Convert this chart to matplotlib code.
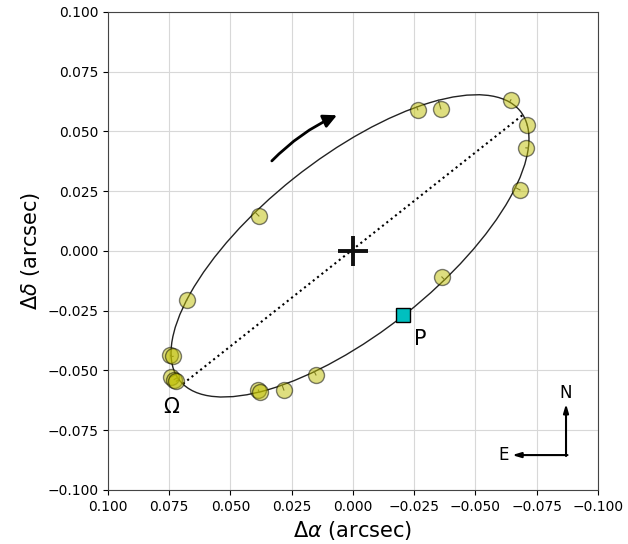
import numpy as np
import matplotlib
matplotlib.use("Agg")
import matplotlib.pyplot as plt
from matplotlib.patches import Ellipse

# ------------------------------- Datos -------------------------------
# posiciones observadas (arcsec)
obs_x = [-0.0265, -0.0359, -0.0645, -0.0710, -0.0706, -0.0682, 0.0384, -0.0363,
         0.0678, 0.0745, 0.0734, 0.0744, 0.0730, 0.0721, 0.0386, 0.0380, 0.0282, 0.0151]
obs_y = [0.0590, 0.0594, 0.0632, 0.0527, 0.0431, 0.0255, 0.0146, -0.0109,
         -0.0206, -0.0437, -0.0441, -0.0528, -0.0538, -0.0545, -0.0582, -0.0590, -0.0582, -0.0519]

# orbita aparente: centro, semiejes y angulo
orb_cx, orb_cy = 0.0012, 0.0021
orb_a, orb_b = 0.0895, 0.0364
orb_ang = -39.2

# linea de nodos y periastro
node_x = [0.0694, -0.0694]
node_y = [-0.0556, 0.0569]
peri_x, peri_y = -0.0205, -0.0268

ticks = [0.100, 0.075, 0.050, 0.025, 0.000, -0.025, -0.050, -0.075, -0.100]

# ------------------------------- Grafico -------------------------------
fig = plt.figure(figsize=(6.28, 5.44), dpi=100)
ax = fig.add_axes([0.172, 0.0993, 0.780, 0.879])

# elipse
ax.add_patch(Ellipse((orb_cx, orb_cy), 2 * orb_a, 2 * orb_b, angle=orb_ang,
                     fill=False, ec='#222222', lw=1.0, zorder=3))

# residuos: del punto observado al punto mas cercano de la orbita
t = np.linspace(0, 2 * np.pi, 2000)
th = np.deg2rad(orb_ang)
ex = orb_cx + orb_a * np.cos(t) * np.cos(th) - orb_b * np.sin(t) * np.sin(th)
ey = orb_cy + orb_a * np.cos(t) * np.sin(th) + orb_b * np.sin(t) * np.cos(th)
for xo, yo in zip(obs_x, obs_y):
    k = np.argmin((ex - xo) ** 2 + (ey - yo) ** 2)
    ax.plot([xo, ex[k]], [yo, ey[k]], color='#444444', lw=0.8, zorder=4)

ax.plot(obs_x, obs_y, 'o', ms=11.5, mfc='y', mec='k', alpha=0.5, zorder=5)

ax.plot(node_x, node_y, ':', color='k', lw=1.5, zorder=3)
ax.plot([0], [0], '+', color='#111111', ms=22, mew=2.8, zorder=6)
ax.plot([peri_x], [peri_y], 's', color='c', mec='k', ms=10, zorder=7)

ax.text(peri_x - 0.0045, peri_y - 0.006, 'P', fontsize=15, ha='left', va='top')
ax.text(node_x[0] + 0.0048, node_y[0] - 0.0055, r'$\Omega$', fontsize=15, ha='center', va='top')

# flecha del sentido de movimiento
ax.annotate('', xy=(0.0055, 0.0572), xytext=(0.0339, 0.0368),
            arrowprops=dict(arrowstyle='-|>,head_length=0.8,head_width=0.4', color='k',
                            lw=2, connectionstyle='arc3,rad=-0.1'))

# brujula N-E
ax.annotate('', xy=(0.935, 0.180), xytext=(0.935, 0.071), xycoords='axes fraction',
            arrowprops=dict(arrowstyle='-|>,head_length=0.5,head_width=0.15', color='k', lw=1.5,
                            shrinkA=0, shrinkB=0))
ax.annotate('', xy=(0.825, 0.073), xytext=(0.938, 0.073), xycoords='axes fraction',
            arrowprops=dict(arrowstyle='-|>,head_length=0.5,head_width=0.15', color='k', lw=1.5,
                            shrinkA=0, shrinkB=0))
ax.text(0.935, 0.185, 'N', transform=ax.transAxes, fontsize=12, ha='center', va='bottom')
ax.text(0.818, 0.073, 'E', transform=ax.transAxes, fontsize=12, ha='right', va='center')

ax.set_xlim(0.1, -0.1)
ax.set_ylim(-0.1, 0.1)
ax.set_xticks(ticks)
ax.set_yticks(ticks)
ax.grid(True, color='#d8d8d8', lw=0.8)
ax.set_axisbelow(True)
for s in ax.spines.values():
    s.set_color('#444444')
ax.set_xlabel(r'$\Delta\alpha$ (arcsec)', fontsize=15)
ax.set_ylabel(r'$\Delta\delta$ (arcsec)', fontsize=15)

fig.savefig('out.png', dpi=100)
